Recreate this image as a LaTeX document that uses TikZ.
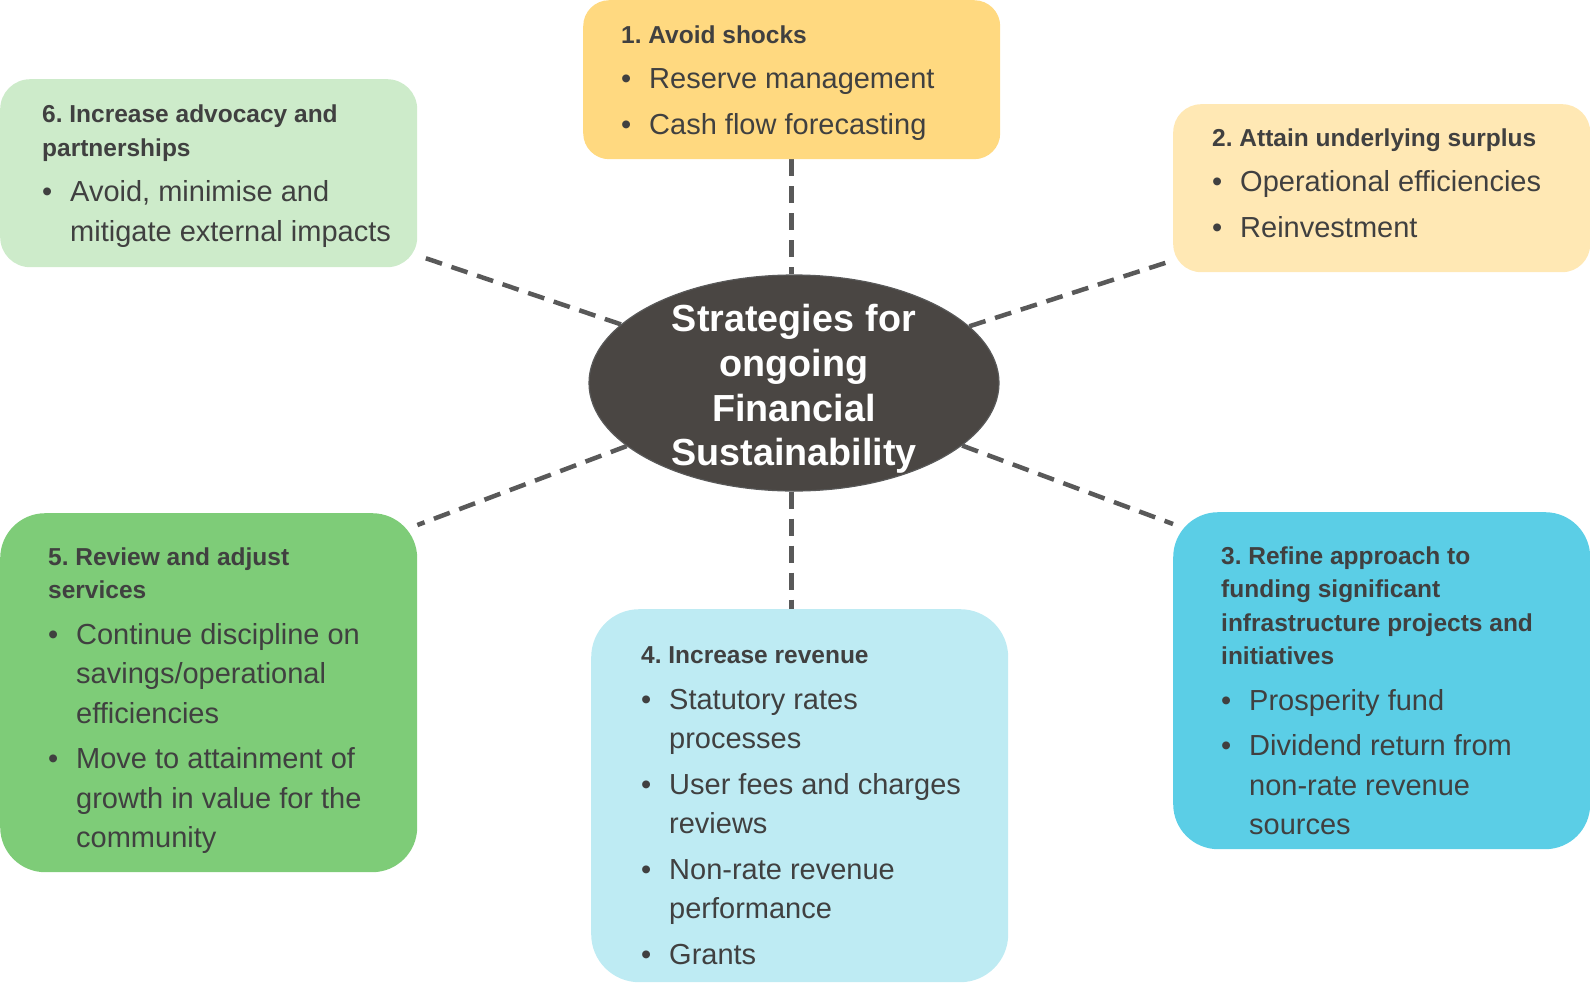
\documentclass[tikz,border=0pt]{standalone}
\usepackage{fontspec}
\setmainfont{Liberation Sans}
\usetikzlibrary{shapes, backgrounds}

\definecolor{inkGrey}{HTML}{404040}
\definecolor{dashGrey}{HTML}{595959}
\definecolor{hubBrown}{HTML}{4A4643}
\definecolor{goldFill}{HTML}{FFD980}
\definecolor{creamFill}{HTML}{FFE8B4}
\definecolor{mintFill}{HTML}{CDEBCA}
\definecolor{greenFill}{HTML}{7ECC78}
\definecolor{skyFill}{HTML}{BEEBF3}
\definecolor{aquaFill}{HTML}{5BCEE6}

\newlength\cardpad
\tikzset{lpad/.code={\setlength\cardpad{#1}}}
\newcommand\cardhead[1]{{\frenchspacing\leftskip=\cardpad\relax\spaceskip=0pt\relax
    \fontsize{24.5}{33.5}\selectfont\bfseries #1\par}}
\newcommand\cardpoint[1]{{\def\\{\hfil\break}\frenchspacing\leftskip=\cardpad\relax\spaceskip=0pt\relax
    \hangindent=28pt\relax\hangafter=1\relax
    \fontsize{29}{39.5}\selectfont\vspace{6pt}\noindent\makebox[28pt][l]{\textbullet}#1\par}}
\newcommand\cardend[1]{\endgraf\kern#1\relax}
\newcommand\plainspaces{\spaceskip=0pt\relax}

\tikzstyle{card} = [
    rectangle,
    anchor=north west,
    inner xsep=0pt,
    inner ysep=0pt,
    text width=417pt,
    align=left,
    text=inkGrey
    ]
\tikzstyle{goldCard} = [card, fill=goldFill, rounded corners=26pt, lpad=38pt, minimum height=159pt,
    execute at end node=\cardend{-6pt}]
\tikzstyle{creamCard} = [card, fill=creamFill, rounded corners=28pt, lpad=39pt, minimum height=168pt,
    execute at end node=\cardend{10pt}]
\tikzstyle{mintCard} = [card, fill=mintFill, rounded corners=30pt, lpad=42pt, minimum height=188pt,
    execute at end node=\cardend{-6pt}]
\tikzstyle{greenCard} = [card, fill=greenFill, rounded corners=45pt, lpad=48pt, minimum height=359pt,
    execute at end node=\cardend{-16pt}]
\tikzstyle{skyCard} = [card, fill=skyFill, rounded corners=48pt, lpad=50pt, minimum height=373pt,
    execute at end node=\cardend{-20pt}]
\tikzstyle{aquaCard} = [card, fill=aquaFill, rounded corners=45pt, lpad=48pt, minimum height=337pt,
    execute at end node=\cardend{-20pt}]
\tikzstyle{hubEllipse} = [
    ellipse,
    draw=dashGrey,
    line width=1.2pt,
    fill=hubBrown,
    minimum width=410pt,
    minimum height=216pt,
    inner xsep=0pt,
    inner ysep=-14pt,
    text width=280pt,
    align=center,
    text=white,
    font=\fontsize{37.7}{44.6}\selectfont\bfseries,
    execute at begin node=\plainspaces,
    execute at end node=\cardend{-12pt}
    ]
\tikzstyle{dashLink} = [dashGrey, line width=4.5pt, dash pattern=on 17pt off 10pt]

\begin{document}
\begin{tikzpicture}[x=1pt, y=-1pt]
    \useasboundingbox (0,0) rectangle (1590,991);
    \node[hubEllipse] at (794,383) (hub) {Strategies for\\ongoing\\Financial\\Sustainability};
    \node[goldCard] at (583,0) (b1) {\cardhead{1. Avoid shocks}\cardpoint{Reserve management}\cardpoint{Cash flow forecasting}};
    \node[creamCard] at (1173,104) (b2) {\cardhead{2. Attain underlying surplus}\cardpoint{Operational efficiencies}\cardpoint{Reinvestment}};
    \node[aquaCard] at (1173,512) (b3) {\cardhead{3. Refine approach to\\funding significant\\infrastructure projects and\\initiatives}\cardpoint{Prosperity fund}\cardpoint{Dividend return from\\non-rate revenue\\sources}};
    \node[skyCard] at (591,609) (b4) {\cardhead{4. Increase revenue}\cardpoint{Statutory rates\\processes}\cardpoint{User fees and charges\\reviews}\cardpoint{Non-rate revenue\\performance}\cardpoint{Grants}};
    \node[greenCard] at (0,513) (b5) {\cardhead{5. Review and adjust\\services}\cardpoint{Continue discipline on\\savings/operational\\efficiencies}\cardpoint{Move to attainment of\\growth in value for the\\community}};
    \node[mintCard] at (0,79) (b6) {\cardhead{6. Increase advocacy and\\partnerships}\cardpoint{Avoid, minimise and\\mitigate external impacts}};
    % dashed spokes behind the cards
    \begin{scope}[on background layer]
      \draw[dashLink] (b1.south) -- (b1.south |- hub.north);
      \draw[dashLink] (b1.south |- hub.south) -- (b1.south |- b4.north);
      \draw[dashLink] (hub) -- ([yshift=12pt]b2.south west);
      \draw[dashLink] (hub) -- ([yshift=-12pt]b3.north west);
      \draw[dashLink] (hub) -- ([yshift=-12pt]b5.north east);
      \draw[dashLink] (hub) -- ([yshift=12pt]b6.south east);
    \end{scope}
\end{tikzpicture}
\end{document}
